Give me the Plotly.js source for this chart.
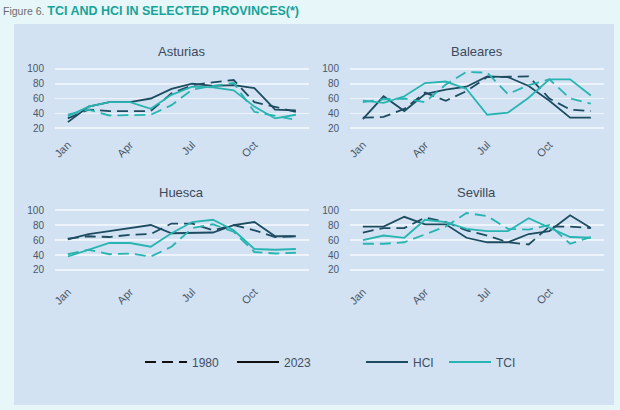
<!DOCTYPE html>
<html>
<head>
<meta charset="utf-8">
<script src="https://cdn.plot.ly/plotly-3.0.1.min.js"></script>
<style>
  html, body { margin:0; padding:0; width:620px; height:410px; overflow:hidden; background:#e7f7f9; font-family:"Liberation Sans", Arial, sans-serif; }
  #head { position:absolute; left:3px; top:1px; white-space:nowrap; }
  #head .fig { font-size:10.5px; color:#6b6b6b; }
  #head .ttl { font-size:12.5px; color:#17a39a; font-weight:bold; }
  #chart { position:absolute; left:14px; top:24px; width:600px; height:381px; }
</style>
</head>
<body>
<div id="head"><span class="fig">Figure 6. </span><span class="ttl">TCI AND HCI IN SELECTED PROVINCES(*)</span></div>
<div id="chart"></div>
<script>
// ---- data ----
const months = ['Jan','Feb','Mar','Apr','May','Jun','Jul','Aug','Sep','Oct','Nov','Dec'];
const tickMonths = ['Jan','Apr','Jul','Oct'];
const yTicks = [20, 40, 60, 80, 100];
const provinces = ['Asturias', 'Baleares', 'Huesca', 'Sevilla'];

const asturiasHCI1980 = [33, 45, 43, 43, 43, 67, 78, 82, 85, 55, 49, 42];
const asturiasHCI2023 = [28, 49, 55, 55, 60, 73, 80, 77, 78, 74, 45, 44];
const asturiasTCI1980 = [38, 45, 37, 37, 38, 51, 72, 77, 81, 42, 36, 31];
const asturiasTCI2023 = [36, 49, 55, 55, 46, 65, 76, 75, 71, 49, 33, 38];

const balearesHCI1980 = [34, 35, 46, 68, 57, 70, 89, 89, 90, 60, 45, 43];
const balearesHCI2023 = [32, 63, 43, 66, 72, 76, 90, 89, 77, 57, 34, 34];
const balearesTCI1980 = [55, 59, 60, 55, 79, 96, 95, 66, 78, 86, 60, 53];
const balearesTCI2023 = [57, 54, 63, 81, 83, 73, 38, 41, 61, 86, 86, 64];

const huescaHCI1980 = [62, 65, 64, 67, 68, 82, 82, 73, 80, 73, 64, 65];
const huescaHCI2023 = [61, 68, 72, 76, 80, 69, 69, 70, 80, 84, 65, 65];
const huescaTCI1980 = [41, 47, 41, 42, 38, 51, 76, 81, 71, 44, 42, 43];
const huescaTCI2023 = [38, 47, 56, 56, 51, 69, 84, 87, 73, 48, 47, 48];

const sevillaHCI1980 = [70, 76, 76, 90, 84, 73, 66, 57, 54, 78, 78, 76];
const sevillaHCI2023 = [78, 78, 91, 81, 81, 63, 57, 57, 68, 72, 93, 76];
const sevillaTCI1980 = [55, 55, 57, 67, 78, 96, 92, 75, 74, 80, 55, 64];
const sevillaTCI2023 = [60, 66, 63, 87, 84, 75, 72, 72, 89, 77, 64, 63];

const seriesByProvince = [
  [asturiasHCI1980, asturiasHCI2023, asturiasTCI1980, asturiasTCI2023],
  [balearesHCI1980, balearesHCI2023, balearesTCI1980, balearesTCI2023],
  [huescaHCI1980, huescaHCI2023, huescaTCI1980, huescaTCI2023],
  [sevillaHCI1980, sevillaHCI2023, sevillaTCI1980, sevillaTCI2023]
];

// ---- styles ----
const W = 600, H = 381;
const HCI_COLOR = '#1d4c61';
const TCI_COLOR = '#28b4b0';
const DASH = '11px,6px';
const FONT = '"Liberation Sans", Arial, sans-serif';
const TEXT = '#4a5868';

// panel pixel boxes inside the chart div: [left, right, top, bottom]
const boxes = [
  [41, 294.7, 41.3, 111.4],
  [336, 589.7, 41.3, 111.4],
  [41, 294.7, 182.3, 258.5],
  [336, 589.7, 182.3, 258.5]
];
const yRanges = [[10, 105], [10, 105], [3.3, 105], [3.3, 105]];
const titleY = [28, 28, 169, 169];

const traces = [];
const layout = {
  width: W, height: H,
  margin: {l: 0, r: 0, t: 0, b: 0},
  paper_bgcolor: '#d2e2f3',
  plot_bgcolor: 'rgba(0,0,0,0)',
  font: {family: FONT, color: TEXT, size: 10},
  showlegend: true,
  annotations: [],
  hovermode: false
};

const styles = [
  {color: HCI_COLOR, dash: DASH},
  {color: HCI_COLOR, dash: 'solid'},
  {color: TCI_COLOR, dash: DASH},
  {color: TCI_COLOR, dash: 'solid'}
];

provinces.forEach((p, i) => {
  const n = i + 1;
  const xa = 'xaxis' + (n === 1 ? '' : n);
  const ya = 'yaxis' + (n === 1 ? '' : n);
  const b = boxes[i];
  layout[xa] = {
    domain: [b[0] / W, b[1] / W],
    anchor: 'y' + (n === 1 ? '' : n),
    type: 'category',
    range: [-0.62, 11.62],
    tickmode: 'array',
    tickvals: tickMonths,
    ticktext: tickMonths,
    tickangle: -45,
    showgrid: false,
    zeroline: false,
    showline: false,
    ticks: '',
    tickfont: {size: 11, color: TEXT, family: FONT}
  };
  layout[ya] = {
    domain: [1 - b[3] / H, 1 - b[2] / H],
    anchor: 'x' + (n === 1 ? '' : n),
    range: yRanges[i],
    tickmode: 'array',
    tickvals: yTicks,
    showgrid: true,
    gridcolor: 'rgba(255,255,255,0.62)',
    gridwidth: 1.5,
    zeroline: false,
    showline: false,
    ticks: '',
    ticklabelstandoff: 10,
    tickfont: {size: 10, color: TEXT, family: FONT}
  };
  layout.annotations.push({
    text: p, xref: 'paper', yref: 'paper',
    x: ((b[0] + b[1]) / 2) / W, y: 1 - titleY[i] / H,
    xanchor: 'center', yanchor: 'middle', showarrow: false,
    font: {size: 13, color: '#3b4a5a', family: FONT}
  });
  seriesByProvince[i].forEach((vals, k) => {
    traces.push({
      x: months, y: vals, type: 'scatter', mode: 'lines',
      xaxis: 'x' + (n === 1 ? '' : n), yaxis: 'y' + (n === 1 ? '' : n),
      line: {color: styles[k].color, dash: styles[k].dash, width: 1.8},
      showlegend: false
    });
  });
});

// ---- legend entries ----
const legendItems = [
  {name: '1980', color: '#111111', dash: DASH, x: 126},
  {name: '2023', color: '#111111', dash: 'solid', x: 218},
  {name: 'HCI', color: HCI_COLOR, dash: 'solid', x: 347},
  {name: 'TCI', color: TCI_COLOR, dash: 'solid', x: 430}
];
legendItems.forEach((it, j) => {
  const lg = 'legend' + (j === 0 ? '' : (j + 1));
  traces.push({
    x: [null], y: [null], type: 'scatter', mode: 'lines',
    name: it.name, legend: lg, showlegend: true,
    line: {color: it.color, dash: it.dash, width: 2}
  });
  layout[lg] = {
    x: it.x / W, xanchor: 'left', y: 1 - 338 / H, yanchor: 'middle',
    orientation: 'h', bgcolor: 'rgba(0,0,0,0)', borderwidth: 0,
    itemwidth: 42,
    font: {size: 12, color: '#3f4e5e', family: FONT}
  };
});

Plotly.newPlot('chart', traces, layout, {staticPlot: true, displayModeBar: false});
</script>
</body>
</html>
